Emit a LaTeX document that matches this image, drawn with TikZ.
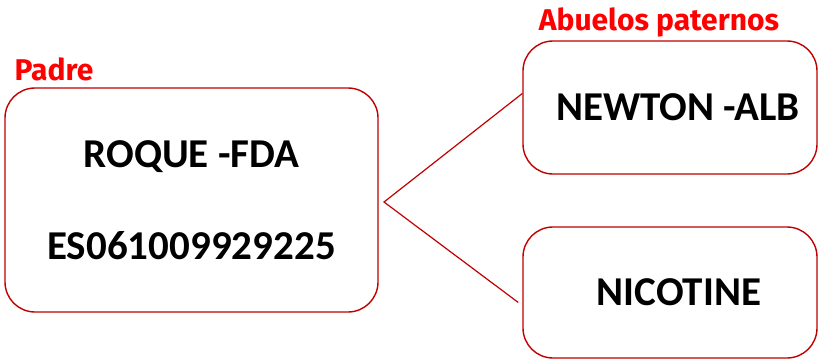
\documentclass[tikz,border=0pt]{standalone}
\usepackage{fontspec}
\setmainfont{Carlito}
\newfontfamily\tagfont{Fira Sans}[UprightFont=*-Bold]
\usetikzlibrary{calc}
\definecolor{boxred}{RGB}{192,0,0}
\definecolor{tagred}{RGB}{255,0,0}
\tikzset{
	kinbox/.style={draw=boxred, line width=1.4pt, rounded corners=30pt, fill=white,
		font=\bfseries\fontsize{41}{46}\selectfont, align=center, inner sep=0pt},
	kintag/.style={text=tagred, font=\tagfont\fontsize{30}{34}\selectfont, inner sep=0pt},
	kinline/.style={draw=boxred, line width=1.2pt}
}

\begin{document}
\begin{tikzpicture}[x=1pt, y=1pt]
			%%%%% START %%%%%
			\useasboundingbox (0, 0) rectangle (821, 360);
			
			\node[kinbox, minimum width=373pt, minimum height=224pt] (padre) at (191.5, 160) {ROQUE -FDA\\[46pt]ES061009929225};
			\node[kintag] (padretag) at (54, 291) {Padre};
			
			\node[kinbox, minimum width=294pt, minimum height=133pt] (newton) at (670, 252.5) {\hspace*{16pt}NEWTON -ALB};
			\node[kinbox, minimum width=294pt, minimum height=131pt] (nicotine) at (670, 67.5) {\hspace*{18pt}NICOTINE};
			\node[kintag] (abuelostag) at (659, 338) {Abuelos paternos};
			
			\coordinate (fork) at (384, 158);
			\draw[kinline] ([yshift=14pt]newton.west) -- (fork) -- ([xshift=-4pt, yshift=-10pt]nicotine.west);
			
			%%%%% END %%%%%
		\end{tikzpicture}
\end{document}
